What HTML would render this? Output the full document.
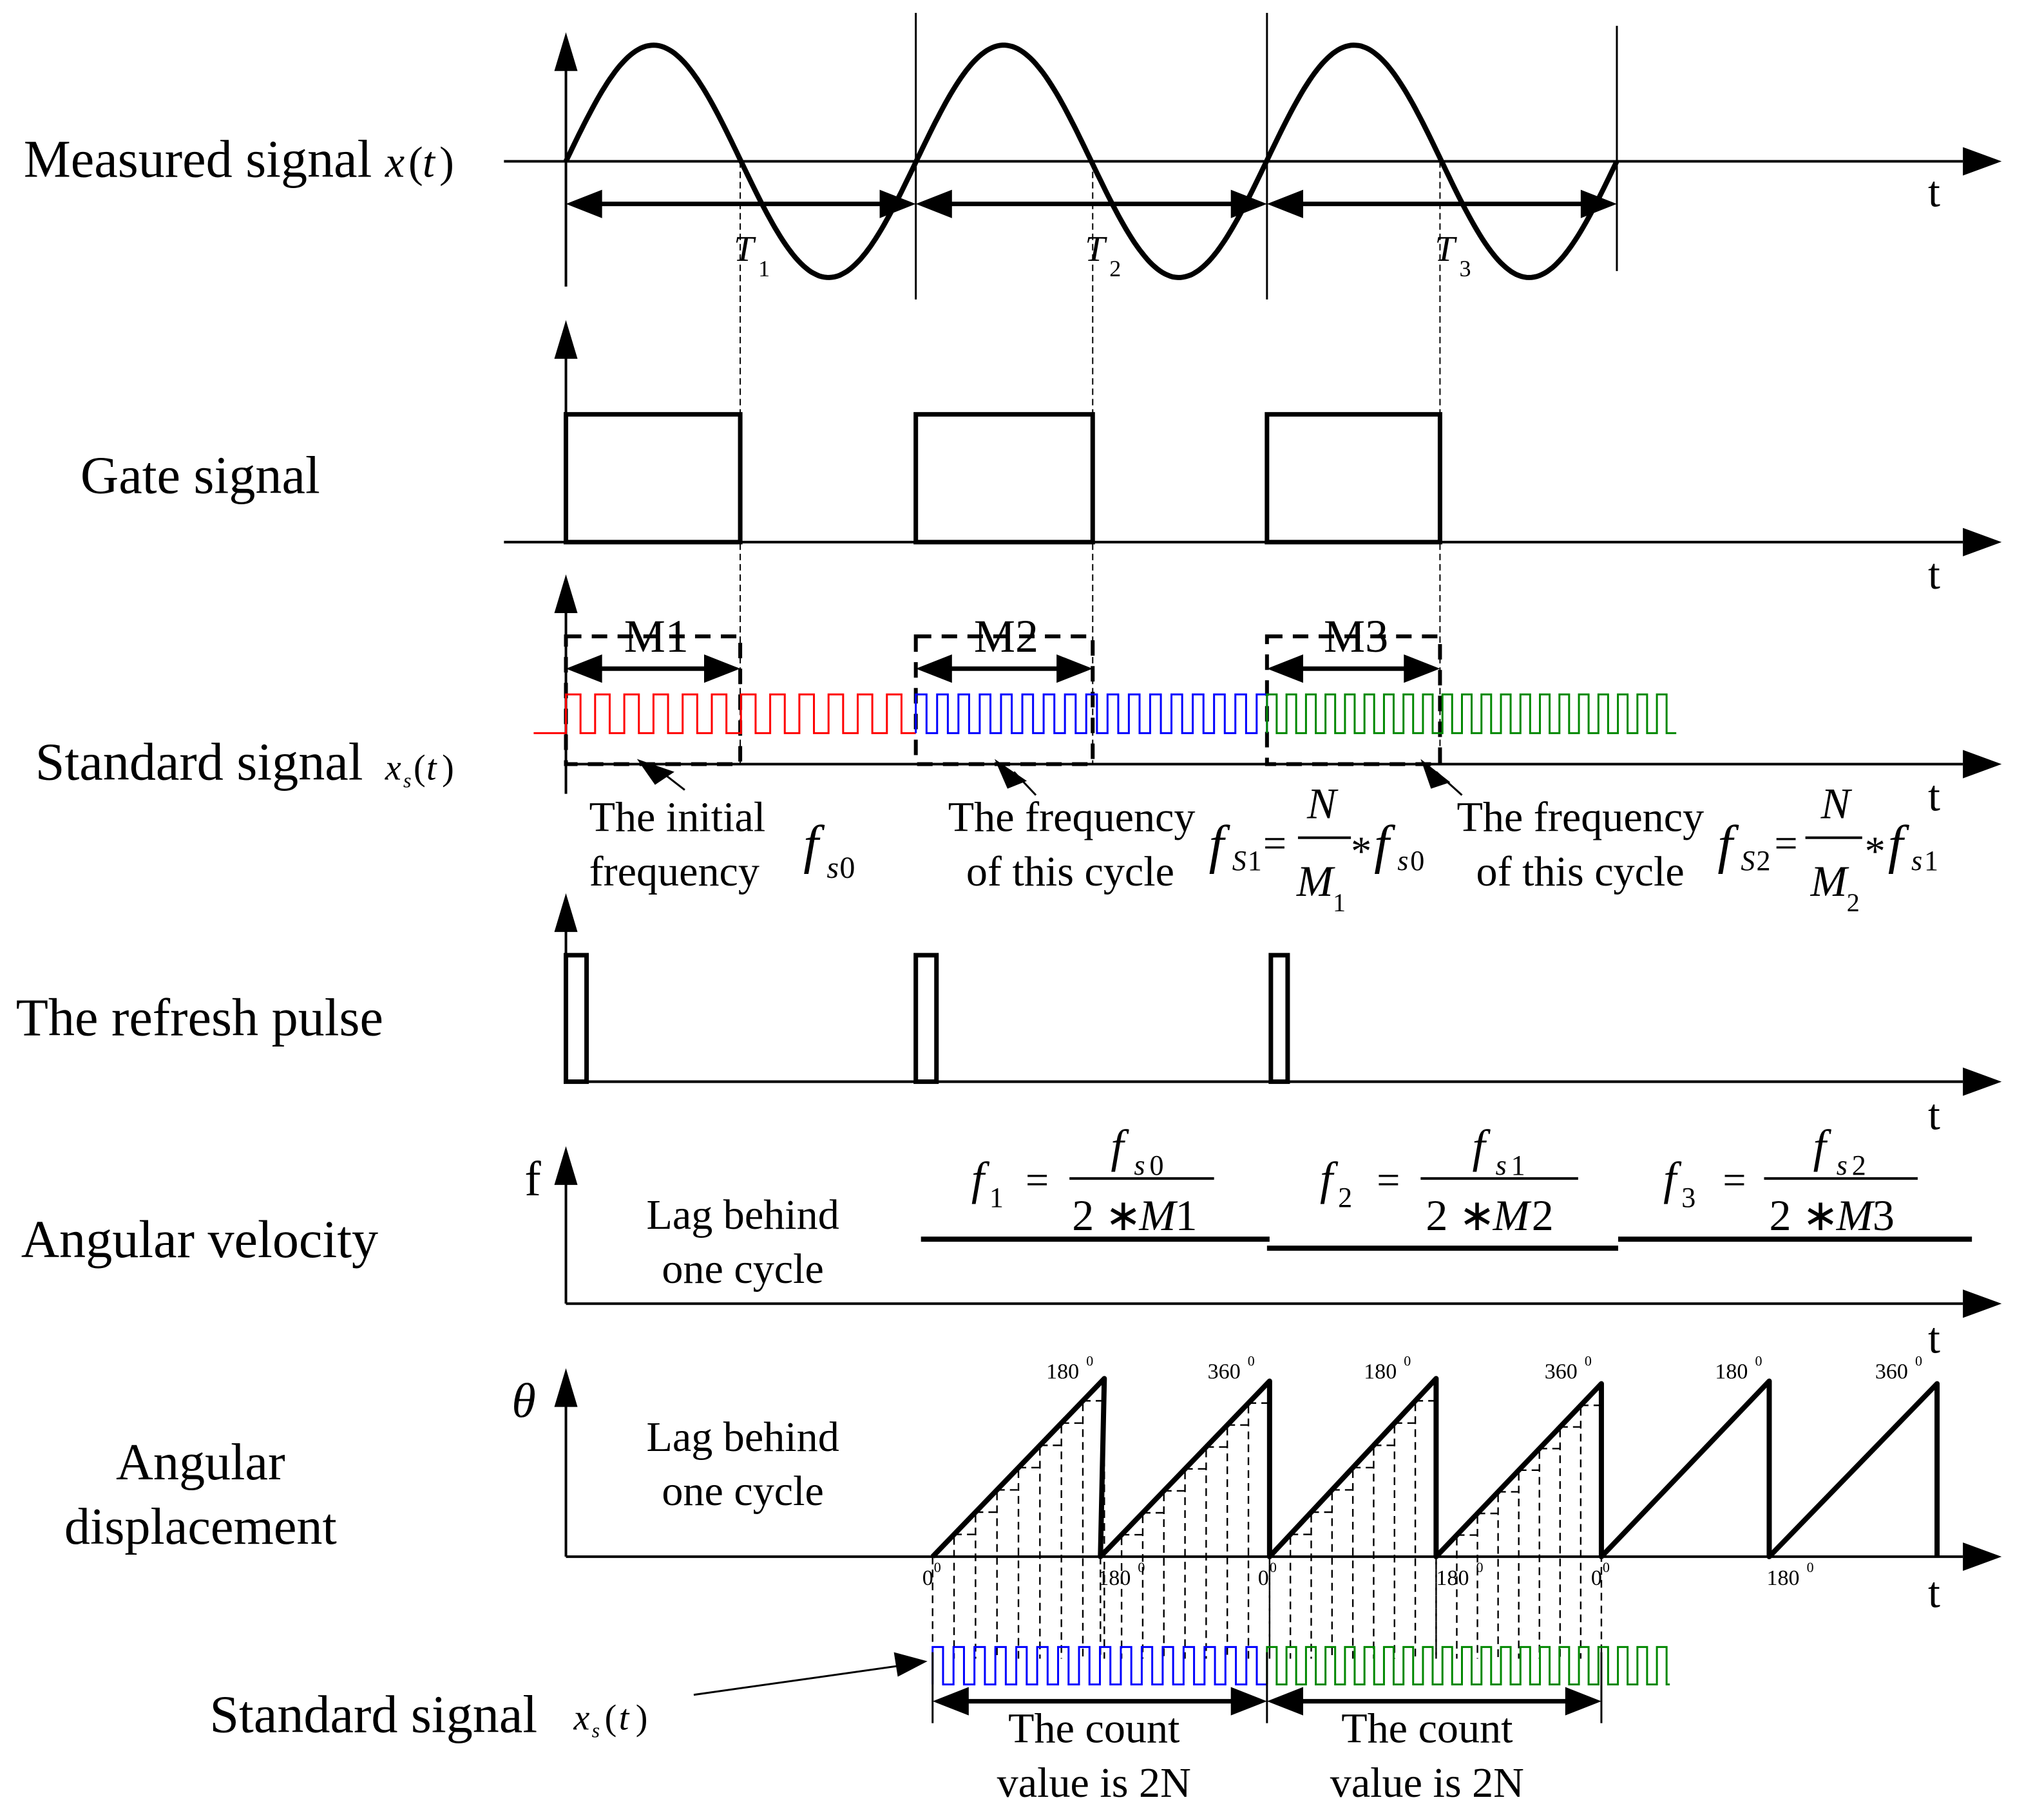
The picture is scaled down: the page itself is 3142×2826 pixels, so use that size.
<!DOCTYPE html>
<html><head><meta charset="utf-8"><style>
html,body{margin:0;padding:0;background:#fff;}
svg{display:block;}
text{font-family:"Liberation Serif",serif;fill:#000;}
.it{font-style:italic;}
</style></head><body>
<svg id="s" width="3142" height="2826" viewBox="0 0 1567 1410" xmlns="http://www.w3.org/2000/svg">
<g id="g" stroke="#000" fill="none">
<g stroke-width="2">
<line x1="390" y1="125" x2="1520" y2="125"/>
<line x1="390" y1="420" x2="1520" y2="420"/>
<line x1="438" y1="592" x2="1520" y2="592"/>
<line x1="438" y1="838" x2="1520" y2="838"/>
<line x1="438" y1="1010" x2="1520" y2="1010"/>
<line x1="438" y1="1206" x2="1520" y2="1206"/>
<line x1="438" y1="222" x2="438" y2="52"/>
<line x1="438" y1="420" x2="438" y2="275"/>
<line x1="438" y1="615" x2="438" y2="472"/>
<line x1="438" y1="838" x2="438" y2="720"/>
<line x1="438" y1="1010" x2="438" y2="915"/>
<line x1="438" y1="1206" x2="438" y2="1088"/>
</g>
<g fill="#000" stroke="none">
<path d="M1520,114 L1550,125 L1520,136z"/>
<path d="M1520,409 L1550,420 L1520,431z"/>
<path d="M1520,581 L1550,592 L1520,603z"/>
<path d="M1520,827 L1550,838 L1520,849z"/>
<path d="M1520,999 L1550,1010 L1520,1021z"/>
<path d="M1520,1195 L1550,1206 L1520,1217z"/>
<path d="M429,55 L438,25 L447,55z"/>
<path d="M429,278 L438,248 L447,278z"/>
<path d="M429,475 L438,445 L447,475z"/>
<path d="M429,722 L438,692 L447,722z"/>
<path d="M429,918 L438,888 L447,918z"/>
<path d="M429,1090 L438,1060 L447,1090z"/>
</g>
<g stroke-width="1.5">
<line x1="709" y1="10" x2="709" y2="232"/>
<line x1="981" y1="10" x2="981" y2="232"/>
<line x1="1252" y1="20" x2="1252" y2="210"/>
</g>
<path id="sine" stroke-width="4"/>
<g stroke-width="1" stroke-dasharray="5,3">
<line x1="573" y1="125" x2="573" y2="592"/>
<line x1="846" y1="125" x2="846" y2="592"/>
<line x1="1115" y1="125" x2="1115" y2="592"/>
</g>
<g stroke-width="3.5">
<line x1="460" y1="158" x2="688" y2="158"/>
<line x1="731" y1="158" x2="960" y2="158"/>
<line x1="1003" y1="158" x2="1231" y2="158"/>
<line x1="460" y1="518" x2="551" y2="518"/>
<line x1="731" y1="518" x2="824" y2="518"/>
<line x1="1003" y1="518" x2="1093" y2="518"/>
<line x1="744" y1="1318" x2="959" y2="1318"/>
<line x1="1003" y1="1318" x2="1218" y2="1318"/>
</g>
<g fill="#000" stroke="none" id="dbl"></g>
<g stroke-width="3.5">
<rect x="438" y="321" width="135" height="99"/>
<rect x="709" y="321" width="137" height="99"/>
<rect x="981" y="321" width="134" height="99"/>
</g>
<g stroke-width="3" stroke-dasharray="12,8">
<rect x="438" y="493" width="135" height="99"/>
<rect x="709" y="493" width="137" height="99"/>
<rect x="981" y="493" width="134" height="99"/>
</g>
<path id="red" stroke="#f00" stroke-width="1.5"/>
<path id="blue" stroke="#00f" stroke-width="1.5"/>
<path id="green" stroke="#080" stroke-width="1.5"/>
<g stroke-width="3.5">
<rect x="438" y="740" width="16" height="98"/>
<rect x="709" y="740" width="16" height="98"/>
<rect x="984" y="740" width="13" height="98"/>
</g>
<g stroke-width="4">
<line x1="713" y1="960" x2="983" y2="960"/>
<line x1="981" y1="967" x2="1253" y2="967"/>
<line x1="1253" y1="960" x2="1527" y2="960"/>
</g>
<g stroke-width="2">
<line x1="828" y1="913" x2="940" y2="913"/>
<line x1="1100" y1="913" x2="1222" y2="913"/>
<line x1="1366" y1="913" x2="1485" y2="913"/>
<line x1="1005" y1="649" x2="1046" y2="649"/>
<line x1="1398" y1="649" x2="1442" y2="649"/>
</g>
<g id="stairs" stroke-width="1.2" stroke-dasharray="6,4"></g>
<path d="M722,1206 L855,1068 L852,1206 L983,1070 L983,1206 L1112,1068 L1112,1206 L1240,1072 L1240,1206 L1370,1070 L1370,1206 L1500,1072 L1500,1206" stroke-width="4" stroke-linejoin="round"/>
<path id="blue2" stroke="#00f" stroke-width="1.5"/>
<path id="green2" stroke="#080" stroke-width="1.5"/>
<g stroke-width="1.5">
<line x1="722" y1="1280" x2="722" y2="1335"/>
<line x1="981" y1="1280" x2="981" y2="1335"/>
<line x1="1240" y1="1280" x2="1240" y2="1335"/>
<line x1="537" y1="1313" x2="700" y2="1290"/>
<line x1="530" y1="612" x2="512" y2="598"/>
<line x1="802" y1="616" x2="785" y2="598"/>
<line x1="1132" y1="616" x2="1112" y2="598"/>
</g>
<g fill="#000" stroke="none">
<path d="M718,1287 L692,1280 L695,1299z"/>
<path d="M493,588 L522,598 L507,608z"/>
<path d="M770,588 L795,605 L780,611z"/>
<path d="M1100,588 L1123,606 L1108,611z"/>
</g>
</g>
<text x="18" y="137" font-size="41">Measured signal</text>
<text x="298" y="137" font-size="34" class="it">x</text><text x="316" y="137" font-size="34">(</text><text x="327" y="137" font-size="34" class="it">t</text><text x="340" y="137" font-size="34">)</text>
<text x="1493" y="160" font-size="34">t</text>
<text x="568" y="202" font-size="28" class="it">T</text><text x="587" y="214" font-size="18">1</text>
<text x="840" y="202" font-size="28" class="it">T</text><text x="859" y="214" font-size="18">2</text>
<text x="1111" y="202" font-size="28" class="it">T</text><text x="1130" y="214" font-size="18">3</text>
<text x="62" y="382" font-size="41">Gate signal</text>
<text x="1493" y="456" font-size="34">t</text>
<text x="483" y="505" font-size="36">M1</text>
<text x="754" y="505" font-size="36">M2</text>
<text x="1025" y="505" font-size="36">M3</text>
<text x="27" y="604" font-size="41">Standard signal</text>
<text x="298" y="604" font-size="28" class="it">x</text><text x="312" y="610" font-size="16" class="it">s</text><text x="320" y="604" font-size="28">(</text><text x="330" y="604" font-size="28" class="it">t</text><text x="342" y="604" font-size="28">)</text>
<text x="1493" y="628" font-size="34">t</text>
<text x="456" y="644" font-size="33">The initial</text>
<text x="456" y="686" font-size="33">frequency</text>
<text x="622" y="668" font-size="42" class="it">f</text><text x="640" y="680" font-size="24" class="it">s</text><text x="650" y="680" font-size="24">0</text>
<text x="734" y="644" font-size="33">The frequency</text>
<text x="748" y="686" font-size="33">of this cycle</text>
<text x="936" y="668" font-size="42" class="it">f</text><text x="954" y="674" font-size="22" class="it">S</text><text x="966" y="674" font-size="22">1</text>
<text x="978" y="664" font-size="32">=</text>
<text x="1012" y="634" font-size="34" class="it">N</text>
<text x="1004" y="694" font-size="34" class="it">M</text><text x="1032" y="706" font-size="20">1</text>
<text x="1046" y="670" font-size="32">*</text><text x="1064" y="668" font-size="42" class="it">f</text><text x="1082" y="674" font-size="22" class="it">s</text><text x="1092" y="674" font-size="22">0</text>
<text x="1128" y="644" font-size="33">The frequency</text>
<text x="1143" y="686" font-size="33">of this cycle</text>
<text x="1330" y="668" font-size="42" class="it">f</text><text x="1348" y="674" font-size="22" class="it">S</text><text x="1360" y="674" font-size="22">2</text>
<text x="1374" y="664" font-size="32">=</text>
<text x="1410" y="634" font-size="34" class="it">N</text>
<text x="1402" y="694" font-size="34" class="it">M</text><text x="1430" y="706" font-size="20">2</text>
<text x="1444" y="670" font-size="32">*</text><text x="1462" y="668" font-size="42" class="it">f</text><text x="1480" y="674" font-size="22" class="it">s</text><text x="1490" y="674" font-size="22">1</text>
<text x="12" y="802" font-size="41">The refresh pulse</text>
<text x="1493" y="875" font-size="34">t</text>
<text x="406" y="926" font-size="38">f</text>
<text x="16" y="974" font-size="41">Angular velocity</text>
<text x="575" y="952" font-size="33" text-anchor="middle">Lag behind</text>
<text x="575" y="994" font-size="33" text-anchor="middle">one cycle</text>
<text x="752" y="925" font-size="36" class="it">f</text><text x="766" y="935" font-size="22">1</text><text x="794" y="925" font-size="32">=</text>
<text x="860" y="900" font-size="36" class="it">f</text><text x="878" y="910" font-size="22" class="it">s</text><text x="890" y="910" font-size="22">0</text>
<text x="830" y="953" font-size="34">2 ∗ </text><text x="882" y="953" font-size="34" class="it">M</text><text x="910" y="953" font-size="34">1</text>
<text x="1022" y="925" font-size="36" class="it">f</text><text x="1036" y="935" font-size="22">2</text><text x="1066" y="925" font-size="32">=</text>
<text x="1140" y="900" font-size="36" class="it">f</text><text x="1158" y="910" font-size="22" class="it">s</text><text x="1170" y="910" font-size="22">1</text>
<text x="1104" y="953" font-size="34">2 ∗ </text><text x="1156" y="953" font-size="34" class="it">M</text><text x="1186" y="953" font-size="34">2</text>
<text x="1288" y="925" font-size="36" class="it">f</text><text x="1302" y="935" font-size="22">3</text><text x="1334" y="925" font-size="32">=</text>
<text x="1404" y="900" font-size="36" class="it">f</text><text x="1422" y="910" font-size="22" class="it">s</text><text x="1434" y="910" font-size="22">2</text>
<text x="1370" y="953" font-size="34">2 ∗ </text><text x="1422" y="953" font-size="34" class="it">M</text><text x="1450" y="953" font-size="34">3</text>
<text x="1493" y="1048" font-size="34">t</text>
<text x="396" y="1098" font-size="38" class="it">θ</text>
<text x="575" y="1124" font-size="33" text-anchor="middle">Lag behind</text>
<text x="575" y="1166" font-size="33" text-anchor="middle">one cycle</text>
<text x="155" y="1146" font-size="40" text-anchor="middle">Angular</text>
<text x="155" y="1196" font-size="40" text-anchor="middle">displacement</text>
<g font-size="17">
<text x="810" y="1068">180</text><text x="841" y="1058" font-size="11">0</text>
<text x="935" y="1068">360</text><text x="966" y="1058" font-size="11">0</text>
<text x="1056" y="1068">180</text><text x="1087" y="1058" font-size="11">0</text>
<text x="1196" y="1068">360</text><text x="1227" y="1058" font-size="11">0</text>
<text x="1328" y="1068">180</text><text x="1359" y="1058" font-size="11">0</text>
<text x="1452" y="1068">360</text><text x="1483" y="1058" font-size="11">0</text>
<text x="714" y="1228">0</text><text x="723" y="1218" font-size="11">0</text>
<text x="850" y="1228">180</text><text x="881" y="1218" font-size="11">0</text>
<text x="974" y="1228">0</text><text x="983" y="1218" font-size="11">0</text>
<text x="1112" y="1228">180</text><text x="1143" y="1218" font-size="11">0</text>
<text x="1232" y="1228">0</text><text x="1241" y="1218" font-size="11">0</text>
<text x="1368" y="1228">180</text><text x="1399" y="1218" font-size="11">0</text>
</g>
<text x="1493" y="1245" font-size="34">t</text>
<text x="162" y="1342" font-size="41">Standard signal</text>
<text x="444" y="1340" font-size="28" class="it">x</text><text x="458" y="1346" font-size="16" class="it">s</text><text x="468" y="1340" font-size="28">(</text><text x="479" y="1340" font-size="28" class="it">t</text><text x="492" y="1340" font-size="28">)</text>
<text x="847" y="1350" font-size="33" text-anchor="middle">The count</text>
<text x="847" y="1392" font-size="33" text-anchor="middle">value is 2N</text>
<text x="1105" y="1350" font-size="33" text-anchor="middle">The count</text>
<text x="1105" y="1392" font-size="33" text-anchor="middle">value is 2N</text>
</svg>
<script>
(function(){
var ns="http://www.w3.org/2000/svg";
function $(i){return document.getElementById(i);}
var d="";for(var x=438;x<=1252;x+=2){var y=125-90*Math.sin((x-438)/271.3*2*Math.PI);d+=(x==438?"M":"L")+x+","+y.toFixed(1);}
$("sine").setAttribute("d",d);
function sq(x0,x1,p,hi,lo,lead){var s="";if(lead!==undefined)s="M"+lead+","+lo+" L"+x0+","+lo;else s="M"+x0+","+lo;
var x=x0;while(x<x1-0.1){var h=Math.min(x+p/2,x1);s+=" L"+x+","+hi+" L"+h.toFixed(1)+","+hi+" L"+h.toFixed(1)+","+lo;var n=Math.min(x+p,x1);s+=" L"+n.toFixed(1)+","+lo;x=n;}return s;}
$("red").setAttribute("d",sq(438,709,22.6,538,568,413));
$("blue").setAttribute("d",sq(709,981,16.5,538,568));
$("green").setAttribute("d",sq(981,1298,15.1,538,568));
$("blue2").setAttribute("d",sq(722,981,16.2,1276,1305));
$("green2").setAttribute("d",sq(981,1293,15.1,1276,1305));
var g=$("dbl");
function tri(pts){var p=document.createElementNS(ns,"path");p.setAttribute("d","M"+pts+"z");g.appendChild(p);}
function dbl(a,b,y,h){tri(a+","+y+" "+(a+28)+","+(y-h)+" "+(a+28)+","+(y+h));tri(b+","+y+" "+(b-28)+","+(y-h)+" "+(b-28)+","+(y+h));}
dbl(438,709,158,11);dbl(709,981,158,11);dbl(981,1252,158,11);
dbl(438,573,518,11);dbl(709,846,518,11);dbl(981,1115,518,11);
dbl(722,981,1318,11);dbl(981,1240,1318,11);
var st=$("stairs");
function ln(x1,y1,x2,y2){var l=document.createElementNS(ns,"line");l.setAttribute("x1",x1);l.setAttribute("y1",y1);l.setAttribute("x2",x2);l.setAttribute("y2",y2);st.appendChild(l);}
var ramps=[[722,855,1068],[852,983,1070],[983,1112,1068],[1112,1240,1072]];
ramps.forEach(function(r){var x0=r[0],x1=r[1],top=r[2],n=8,dx=(x1-x0)/n;
function ry(x){return 1206-(1206-top)*(x-x0)/(x1-x0);}
for(var k=0;k<n;k++){var xa=x0+k*dx,xb=xa+dx;ln(xa,ry(xa),xb,ry(xa));ln(xb,ry(xb)+2,xb,1285);}
ln(x0,1206,x0,1285);});
})();
</script>
</body></html>
